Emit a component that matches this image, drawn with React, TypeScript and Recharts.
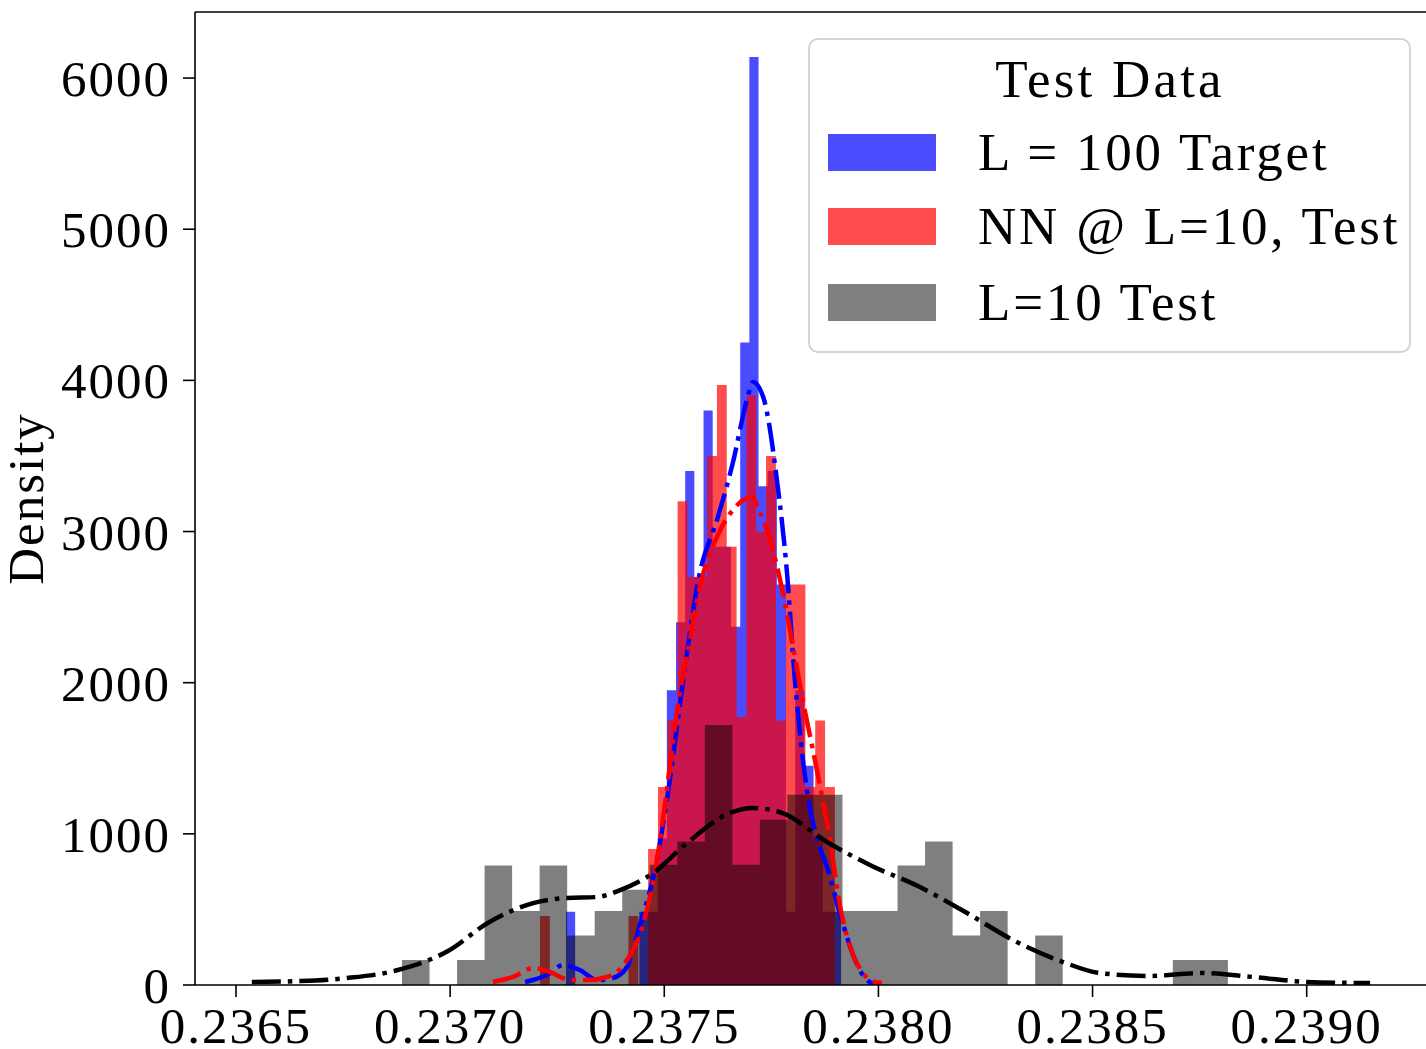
import {
  ComposedChart,
  Area,
  Line,
  XAxis,
  YAxis,
  Legend,
  ReferenceLine,
} from 'recharts'

// axis limits
const X_MIN = 0.2364043
const X_MAX = 0.2392879
const Y_MAX = 6437
const X_TICKS = [0.2365, 0.237, 0.2375, 0.238, 0.2385, 0.239]
const Y_TICKS = [0, 1000, 2000, 3000, 4000, 5000, 6000]

// histograms: first bin edge, bin width, density per bin
const BLUE_START = 0.2372705
const BLUE_WIDTH = 0.000021411
const BLUE_HEIGHTS = [
  485, 0, 0, 0, 0, 0, 0, 0, 485, 485, 970, 1950, 2400, 3400, 2700, 3800, 2900, 2900, 2370, 4250,
  6140, 3300, 3400, 2650, 485, 1950, 1450, 970, 485, 485,
]

const RED_START = 0.2372098
const RED_WIDTH = 0.000022952
const RED_HEIGHTS = [
  457, 0, 0, 0, 0, 0, 0, 0, 0, 457, 0, 900, 1310, 1750, 3200, 2700, 2700, 3500, 3970, 2900,
  1773, 3900, 3000, 3500, 1750, 2650, 2650, 1310, 1750, 1310,
]

const GRAY_START = 0.2368876
const GRAY_WIDTH = 0.00006428
const GRAY_HEIGHTS = [
  165, 0, 165, 790, 490, 790, 327, 490, 630, 795, 950, 1720, 795, 1093, 1258, 1258, 490, 490, 790, 950,
  327, 490, 0, 327, 0, 0, 0, 0, 165, 165,
]

// kde curves
const BLUE_KDE_X = [
  0.237175, 0.237226, 0.237264, 0.237303, 0.237343, 0.23738, 0.237413, 0.237443, 0.237478, 0.237513,
  0.237541, 0.237583, 0.237623, 0.23766, 0.237693, 0.237707, 0.237731, 0.237763, 0.237787, 0.237805,
  0.237833, 0.237864, 0.23788, 0.23791, 0.237941, 0.237973, 0.237992,
]
const BLUE_KDE_Y = [
  20, 66, 132, 99, 33, 46, 119, 397, 761, 1356, 1951, 2725, 3076, 3453, 3870, 3989, 3890, 3341, 2712,
  2018, 1290, 906, 781, 476, 198, 33, 7,
]

const RED_KDE_X = [
  0.2371, 0.237147, 0.237194, 0.237233, 0.23728, 0.23732, 0.237366, 0.237413, 0.23745, 0.237483,
  0.237509, 0.23753, 0.23756, 0.237583, 0.237623, 0.23766, 0.237705, 0.237724, 0.237747, 0.237777,
  0.237801, 0.237822, 0.237847, 0.237864, 0.237887, 0.23791, 0.237941, 0.237964, 0.23798, 0.238008,
]
const RED_KDE_Y = [
  20, 53, 112, 86, 33, 33, 53, 165, 397, 827, 1356, 1819, 2282, 2633, 2964, 3142, 3228, 3122, 2944,
  2593, 2236, 1905, 1555, 1310, 959, 529, 198, 79, 33, 13,
]

const BLACK_KDE_X = [
  0.236537, 0.23665, 0.236759, 0.236878, 0.236995, 0.237088, 0.237194, 0.237273, 0.237343, 0.237397,
  0.237474, 0.237553, 0.237653, 0.237707, 0.237775, 0.23788, 0.23798, 0.238097, 0.238207, 0.238314,
  0.238431, 0.238517, 0.238634, 0.238751, 0.238875, 0.239001, 0.239148,
]
const BLACK_KDE_Y = [
  20, 26, 46, 99, 225, 410, 542, 576, 582, 628, 741, 939, 1138, 1171, 1138, 946, 794, 648, 476, 298,
  152, 79, 60, 79, 53, 20, 13,
]

const LEGEND_TITLE = 'Test Data'
const SERIES_NAMES = ['L = 100 Target', 'NN @ L=10, Test', 'L=10 Test']
const SERIES_COLORS = ['#0000ff', '#ff0000', '#000000']
const SERIES_ALPHA = [0.7, 0.7, 0.5]

const FONT = "'Liberation Serif', 'DejaVu Serif', serif"
const FONT_SIZE = 51
const LEGEND_FONT_SIZE = 53
const DASH = '29 7 4.5 7'

// step points for a histogram drawn as a stepAfter area
function histSteps(start: number, width: number, heights: number[]) {
  const pts = heights.map((h, i) => ({ x: start + i * width, y: h }))
  pts.push({ x: start + heights.length * width, y: heights[heights.length - 1] })
  return pts
}

function curve(xs: number[], ys: number[]) {
  return xs.map((x, i) => ({ x, y: ys[i] }))
}

function LegendBox() {
  const rowY = [96, 170, 246]
  return (
    <svg width={604} height={316} style={{ display: 'block', overflow: 'visible' }}>
      <rect
        x={1}
        y={1}
        width={601}
        height={313}
        rx={9}
        fill="#fff"
        fillOpacity={0.8}
        stroke="#d4d4d4"
        strokeWidth={2}
      />
      <text
        x={302}
        y={59}
        textAnchor="middle"
        fontFamily={FONT}
        fontSize={LEGEND_FONT_SIZE}
        letterSpacing={3.2}
        fill="#000"
      >
        {LEGEND_TITLE}
      </text>
      {SERIES_NAMES.map((name, i) => (
        <g key={name}>
          <rect
            x={20}
            y={rowY[i]}
            width={108}
            height={37}
            fill={SERIES_COLORS[i]}
            fillOpacity={SERIES_ALPHA[i]}
          />
          <text
            x={170}
            y={rowY[i] + 36}
            fontFamily={FONT}
            fontSize={LEGEND_FONT_SIZE}
            letterSpacing={2.8}
            fill="#000"
          >
            {name}
          </text>
        </g>
      ))}
    </svg>
  )
}

export default function App() {
  const blue = histSteps(BLUE_START, BLUE_WIDTH, BLUE_HEIGHTS)
  const red = histSteps(RED_START, RED_WIDTH, RED_HEIGHTS)
  const gray = histSteps(GRAY_START, GRAY_WIDTH, GRAY_HEIGHTS)
  const axisStyle = { stroke: '#000', strokeWidth: 1.6 }
  const tickStyle = { fill: '#000', fontSize: FONT_SIZE, fontFamily: FONT, letterSpacing: 2 }

  return (
    <div
      style={{
        position: 'absolute',
        left: 0,
        top: 0,
        width: 1426,
        height: 1049,
        overflow: 'hidden',
        background: '#fff',
      }}
    >
      <ComposedChart width={1440} height={1049} margin={{ top: 12, right: 10, bottom: 0, left: 0 }}>
        <XAxis
          type="number"
          dataKey="x"
          domain={[X_MIN, X_MAX]}
          allowDataOverflow
          ticks={X_TICKS}
          tickFormatter={(v: number) => v.toFixed(4)}
          height={64}
          tickSize={12}
          tickMargin={10}
          tick={tickStyle}
          tickLine={axisStyle}
          axisLine={axisStyle}
        />
        <YAxis
          type="number"
          domain={[0, Y_MAX]}
          allowDataOverflow
          ticks={Y_TICKS}
          width={195}
          tickSize={12}
          tickMargin={12}
          tick={tickStyle}
          tickLine={axisStyle}
          axisLine={axisStyle}
          label={({ viewBox }: any) => (
            <text
              x={viewBox.x + 26}
              y={viewBox.y + viewBox.height / 2}
              transform={`rotate(-90 ${viewBox.x + 26} ${viewBox.y + viewBox.height / 2})`}
              textAnchor="middle"
              dominantBaseline="central"
              fontFamily={FONT}
              fontSize={FONT_SIZE}
              letterSpacing={2}
              fill="#000"
            >
              Density
            </text>
          )}
        />
        <Area
          data={blue}
          dataKey="y"
          name={SERIES_NAMES[0]}
          type="stepAfter"
          stroke="none"
          fill={SERIES_COLORS[0]}
          fillOpacity={SERIES_ALPHA[0]}
          isAnimationActive={false}
        />
        <Area
          data={red}
          dataKey="y"
          name={SERIES_NAMES[1]}
          type="stepAfter"
          stroke="none"
          fill={SERIES_COLORS[1]}
          fillOpacity={SERIES_ALPHA[1]}
          isAnimationActive={false}
        />
        <Area
          data={gray}
          dataKey="y"
          name={SERIES_NAMES[2]}
          type="stepAfter"
          stroke="none"
          fill={SERIES_COLORS[2]}
          fillOpacity={SERIES_ALPHA[2]}
          isAnimationActive={false}
        />
        <Line
          data={curve(BLUE_KDE_X, BLUE_KDE_Y)}
          dataKey="y"
          type="monotone"
          stroke="#0000ff"
          strokeWidth={4.5}
          strokeDasharray={DASH}
          dot={false}
          legendType="none"
          isAnimationActive={false}
        />
        <Line
          data={curve(RED_KDE_X, RED_KDE_Y)}
          dataKey="y"
          type="monotone"
          stroke="#ff0000"
          strokeWidth={4.5}
          strokeDasharray={DASH}
          dot={false}
          legendType="none"
          isAnimationActive={false}
        />
        <Line
          data={curve(BLACK_KDE_X, BLACK_KDE_Y)}
          dataKey="y"
          type="monotone"
          stroke="#000000"
          strokeWidth={4.5}
          strokeDasharray={DASH}
          dot={false}
          legendType="none"
          isAnimationActive={false}
        />
        <ReferenceLine y={Y_MAX} stroke="#000" strokeWidth={1.6} />
        <ReferenceLine x={X_MAX} stroke="#000" strokeWidth={1.6} />
        <Legend
          layout="horizontal"
          verticalAlign="middle"
          align="center"
          content={() => <LegendBox />}
          wrapperStyle={{ position: 'absolute', left: 808, top: 38, width: 604, height: 316 }}
        />
      </ComposedChart>
    </div>
  )
}
